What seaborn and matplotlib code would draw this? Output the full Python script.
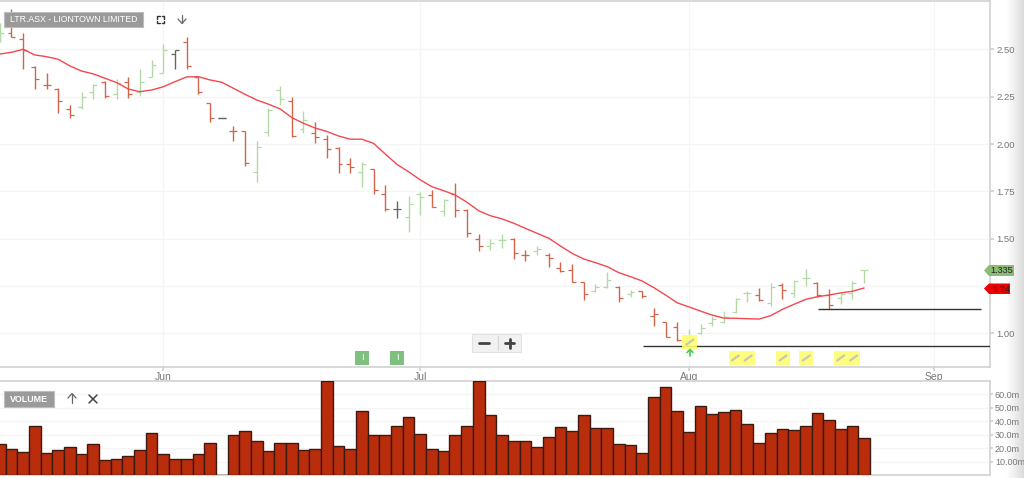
# -*- coding: utf-8 -*-
import numpy as np
import pandas as pd
import matplotlib.pyplot as plt
import seaborn as sns
from matplotlib.patches import Rectangle, Polygon

sns.set_theme(style="white")
plt.rcParams['font.family'] = ['Liberation Sans', 'DejaVu Sans']

# daily bars
highs = [2.640, 2.712, 2.587, 2.413, 2.377, 2.295, 2.207, 2.274, 2.316, 2.335, 2.344, 2.356, 2.395, 2.445, 2.531,
         2.496, 2.564, 2.360, 2.219, 2.137, 2.096, 2.071, 2.017, 2.193, 2.307, 2.247, 2.177, 2.115, 2.048, 1.986,
         1.925, 1.906, 1.867, 1.783, 1.698, 1.728, 1.749, 1.758, 1.710, 1.796, 1.656, 1.524, 1.497, 1.524, 1.503,
         1.441, 1.463, 1.423, 1.379, 1.367, 1.272, 1.261, 1.325, 1.251, 1.229, 1.226, 1.134, 1.062, 1.059, 1.023,
         1.050, 1.094, 1.118, 1.189, 1.226, 1.242, 1.265, 1.268, 1.282, 1.339, 1.273, 1.233, 1.212, 1.279, 1.335]
lows = [2.540, 2.566, 2.397, 2.290, 2.290, 2.165, 2.136, 2.184, 2.237, 2.245, 2.237, 2.245, 2.256, 2.353, 2.374,
        2.395, 2.397, 2.265, 2.115, 2.137, 2.017, 1.885, 1.802, 2.045, 2.205, 2.036, 2.057, 2.006, 1.928, 1.846,
        1.846, 1.775, 1.737, 1.648, 1.611, 1.536, 1.624, 1.666, 1.622, 1.617, 1.511, 1.435, 1.441, 1.450, 1.392,
        1.383, 1.414, 1.353, 1.326, 1.270, 1.176, 1.220, 1.242, 1.164, 1.191, 1.186, 1.037, 0.979, 0.960, 0.950,
        0.997, 1.039, 1.053, 1.109, 1.168, 1.173, 1.145, 1.180, 1.191, 1.251, 1.194, 1.131, 1.155, 1.180, 1.265]
opens = [2.550, 2.587, 2.555, 2.409, 2.314, 2.290, 2.187, 2.195, 2.277, 2.328, 2.265, 2.328, 2.277, 2.356, 2.377,
         2.476, 2.541, 2.356, 2.216, 2.137, 2.068, 2.068, 1.853, 2.066, 2.286, 2.226, 2.078, 2.057, 2.026, 1.978,
         1.897, 1.851, 1.867, 1.738, 1.655, 1.617, 1.737, 1.733, 1.648, 1.737, 1.652, 1.499, 1.462, 1.494, 1.499,
         1.414, 1.435, 1.414, 1.347, 1.335, 1.270, 1.226, 1.244, 1.247, 1.208, 1.224, 1.092, 1.060, 1.032, 0.951,
         1.001, 1.057, 1.059, 1.113, 1.215, 1.203, 1.162, 1.256, 1.215, 1.294, 1.268, 1.203, 1.186, 1.212, 1.335]
closes = [2.585, 2.568, 2.497, 2.346, 2.314, 2.226, 2.156, 2.247, 2.314, 2.254, 2.321, 2.265, 2.328, 2.418, 2.495,
          2.495, 2.414, 2.275, 2.137, 2.137, 2.068, 1.902, 1.985, 2.180, 2.237, 2.043, 2.128, 2.036, 1.976, 1.897,
          1.878, 1.897, 1.758, 1.655, 1.655, 1.682, 1.722, 1.669, 1.705, 1.652, 1.529, 1.462, 1.476, 1.494, 1.423,
          1.414, 1.444, 1.397, 1.330, 1.273, 1.208, 1.244, 1.282, 1.186, 1.220, 1.198, 1.104, 0.983, 0.965, 0.976,
          1.030, 1.075, 1.088, 1.180, 1.215, 1.176, 1.247, 1.229, 1.277, 1.294, 1.203, 1.150, 1.207, 1.268, 1.335]
moving_avg = [2.476, 2.485, 2.501, 2.471, 2.462, 2.448, 2.413, 2.386, 2.371, 2.348, 2.325, 2.291, 2.277, 2.286, 2.303,
              2.330, 2.355, 2.356, 2.339, 2.327, 2.295, 2.263, 2.233, 2.211, 2.186, 2.140, 2.110, 2.085, 2.067, 2.043,
              2.026, 2.026, 2.004, 1.948, 1.893, 1.854, 1.811, 1.775, 1.754, 1.731, 1.693, 1.648, 1.622, 1.605, 1.582,
              1.555, 1.529, 1.503, 1.462, 1.423, 1.393, 1.374, 1.353, 1.321, 1.300, 1.277, 1.242, 1.203, 1.162, 1.140,
              1.118, 1.097, 1.081, 1.080, 1.078, 1.076, 1.094, 1.127, 1.154, 1.180, 1.194, 1.203, 1.214, 1.223, 1.240]
volumes = [22.9, 19.2, 17.2, 36.3, 16.7, 18.9, 20.9, 15.9, 22.9, 11.4, 11.7, 13.9, 18.9, 31.6, 15.9,
           11.7, 11.7, 15.9, 23.6, 0.0, 29.4, 33.1, 25.1, 18.2, 24.1, 24.1, 18.7, 19.2, 70.0, 21.9,
           19.2, 47.8, 29.4, 30.1, 36.8, 42.8, 30.6, 19.4, 17.7, 29.4, 36.3, 70.0, 44.3, 30.1, 25.6,
           25.6, 20.7, 27.9, 35.8, 32.6, 45.0, 35.3, 34.8, 23.4, 22.4, 16.7, 57.7, 65.4, 47.3, 32.3,
           51.5, 45.5, 46.5, 48.3, 37.6, 24.1, 31.6, 34.3, 33.8, 36.8, 46.0, 40.6, 34.1, 36.3, 27.4]

price_ticks = [1.00, 1.25, 1.50, 1.75, 2.00, 2.25, 2.50]
price_labels = ['1.00', '', '1.50', '1.75', '2.00', '2.25', '2.50']
vol_ticks = [10, 20, 30, 40, 50, 60]
vol_labels = ['10.00m', '20.0m', '30.0m', '40.0m', '50.0m', '60.0m']
months = ['Jun', 'Jul', 'Aug', 'Sep']
month_pos = [14, 36, 59, 80]

support_low = 0.932
support_high = 1.128
last_price = 1.335
last_avg = 1.24

RED = '#d2644c'
GREEN = '#b3d9a6'
DARK = '#666666'
GRID = '#f5f5f5'
BORDER = '#d2d2d2'
TXT = '#777777'

idx = np.arange(len(closes))
df = pd.DataFrame({'idx': idx, 'high': highs, 'low': lows, 'open': opens, 'close': closes,
                   'ma': moving_avg, 'volume': volumes})

W, H = 1024, 478
fig = plt.figure(figsize=(W / 100, H / 100), dpi=100)

# page shadow down the right edge, under everything
back = fig.add_axes([1006 / W, 0, 18 / W, 1], zorder=-1)
back.imshow(np.linspace(1, 0.86, 40).reshape(1, -1), cmap='gray', vmin=0, vmax=1, aspect='auto')
back.axis('off')

ax = fig.add_axes([0, 1 - 367 / H, 990 / W, 366 / H])
axv = fig.add_axes([0, 1 - 475 / H, 990 / W, 94.5 / H])
over = fig.add_axes([0, 0, 1, 1], zorder=10)
over.set_xlim(0, W)
over.set_ylim(H, 0)
over.axis('off')

x_lim = (0.0154, 84.78)

# price panel
bar_col = []
for i in idx:
    if i == 0 or closes[i] > closes[i - 1]:
        bar_col.append(GREEN)
    elif closes[i] < closes[i - 1]:
        bar_col.append(RED)
    else:
        bar_col.append(DARK)
ax.vlines(idx, df['low'], df['high'], colors=bar_col, lw=1.0, zorder=3)
ax.hlines(df['open'], idx - 0.34, idx, colors=bar_col, lw=0.9, zorder=3)
ax.hlines(df['close'], idx, idx + 0.34, colors=bar_col, lw=0.9, zorder=3)
# the flat day has no range, only a dash
ax.hlines(closes[19], 18.65, 19.35, colors=DARK, lw=0.9, zorder=3)

sns.lineplot(data=df, x='idx', y='ma', color='#f4484e', lw=1.0, ax=ax, zorder=4)

ax.hlines(support_low, 55.05, x_lim[1], colors='#333333', lw=1.0, zorder=5)
ax.hlines(support_high, 70.05, 84.05, colors='#333333', lw=1.0, zorder=5)

ax.set_xlim(*x_lim)
ax.set_ylim(0.8228, 2.756)
ax.set_xticks(month_pos)
ax.set_xticklabels(months)
ax.set_yticks(price_ticks)
ax.set_yticklabels(price_labels)
ax.yaxis.tick_right()
ax.set_xlabel('')
ax.set_ylabel('')
ax.tick_params(axis='x', length=3, color=BORDER, labelcolor=TXT, labelsize=7.5, pad=0.5, bottom=True)
ax.tick_params(axis='y', length=3, color=BORDER, labelcolor=TXT, labelsize=6.8, pad=1.5, right=True)
ax.grid(True, color=GRID, lw=1)
ax.set_axisbelow(True)
ax.spines['left'].set_visible(False)
for s in ['top', 'right', 'bottom']:
    ax.spines[s].set_color(BORDER)
    ax.spines[s].set_linewidth(1.2)

# volume panel
sns.barplot(data=df, x='idx', y='volume', native_scale=True, width=1.0, color='#b92c0c', saturation=1,
            edgecolor='#3c1a12', linewidth=1.0, ax=axv, zorder=3)
axv.set_xlim(*x_lim)
axv.set_ylim(0, 70.3)
axv.set_xticks([])
axv.set_yticks(vol_ticks)
axv.set_yticklabels(vol_labels)
axv.yaxis.tick_right()
axv.set_xlabel('')
axv.set_ylabel('')
axv.tick_params(axis='y', length=2, color=BORDER, labelcolor=TXT, labelsize=6.5, pad=1.5, right=True)
axv.grid(True, axis='y', color=GRID, lw=1)
axv.set_axisbelow(True)
axv.spines['left'].set_visible(False)
for s in ['top', 'right', 'bottom']:
    axv.spines[s].set_color(BORDER)
    axv.spines[s].set_linewidth(1.2)

# heading tags
over.add_patch(Rectangle((4, 12), 139, 15, fc='#9a9a9a', ec='#bdbdbd', lw=0.8))
over.text(73.5, 19.5, 'LTR.ASX - LIONTOWN LIMITED', color='white', fontsize=6.3, ha='center', va='center')
over.add_patch(Rectangle((4, 391), 50, 16, fc='#9a9a9a', ec='#bdbdbd', lw=0.8))
over.text(29, 399, 'VOLUME', color='white', fontsize=6.4, fontweight='bold', ha='center', va='center')

# fullscreen corners
for cx, cy, dx, dy in [(157, 16, 1, 1), (164, 16, -1, 1), (157, 23, 1, -1), (164, 23, -1, -1)]:
    over.plot([cx + 2.5 * dx, cx, cx], [cy, cy, cy + 2.5 * dy], color='#333333', lw=1)
# down arrow, up arrow, close cross
over.plot([182, 182], [15, 23], color='#666666', lw=0.9)
over.plot([178, 182, 186], [19, 23.5, 19], color='#666666', lw=0.9)
over.plot([72, 72], [394, 403], color='#666666', lw=0.9)
over.plot([68, 72, 76], [398, 393.5, 398], color='#666666', lw=0.9)
over.plot([89, 97], [395, 403], color='#444444', lw=1.1)
over.plot([89, 97], [403, 395], color='#444444', lw=1.1)

# zoom buttons
over.add_patch(Rectangle((472, 334), 49, 18, fc='#f1f1f1', ec='#e2e2e2', lw=0.8))
over.plot([479, 489], [343, 343], color='#444444', lw=2)
over.plot([505, 514], [343, 343], color='#444444', lw=2)
over.plot([509.5, 509.5], [338.5, 347.5], color='#444444', lw=2)
over.plot([497.5, 497.5], [336, 350], color='#d5d5d5', lw=0.8)

# event markers
for x0 in [355, 390]:
    over.add_patch(Rectangle((x0, 351), 14, 14, fc='#7fbf7f', ec='none'))
    over.text(x0 + 7, 358, 'I', color='white', fontsize=6.5, ha='center', va='center')

note_boxes = [(682.3, 335, 15, 14.3), (729, 351, 12.7, 14), (741.7, 351, 13, 14), (776, 351, 14, 14),
              (799.3, 351, 14, 14), (834, 351, 13.3, 14), (847.3, 351, 12.7, 14)]
for x0, y0, bw, bh in note_boxes:
    over.add_patch(Rectangle((x0, y0), bw, bh, fc='#fdfd70', ec='none', alpha=0.9))
    xc, yc = x0 + bw / 2, y0 + bh / 2
    over.plot([xc - 3.5, xc + 3.5], [yc + 2.5, yc - 2.5], color='#c8c8b4', lw=1.6)

# buy arrow
over.plot([690, 690], [350, 356], color='#3fce4a', lw=1.2)
over.plot([687, 690, 693], [352.5, 349.5, 352.5], color='#3fce4a', lw=1.2)

# last value flags
over.add_patch(Polygon([(984, 270.5), (989, 265), (1014, 265), (1014, 276), (989, 276)], fc='#8cbb78', ec='none'))
over.text(1001.5, 270.5, '{:.3f}'.format(last_price), color='#222222', fontsize=6.6, ha='center', va='center')
over.add_patch(Polygon([(984, 288.5), (989, 283.5), (1010, 283.5), (1010, 294), (989, 294)], fc='#ee0000', ec='none'))
over.text(1001, 289, '{:.2f}'.format(last_avg), color='#222222', fontsize=6.6, ha='center', va='center')

fig.savefig('out.png', dpi=100)
